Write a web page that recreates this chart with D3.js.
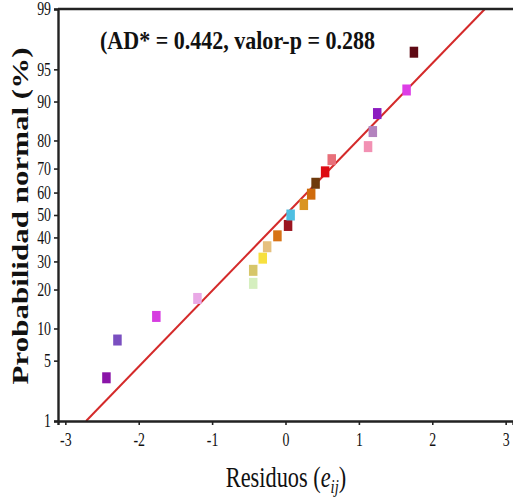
<!DOCTYPE html>
<html>
<head>
<meta charset="utf-8">
<script src="https://cdn.jsdelivr.net/npm/d3@7"></script>
<style>
  html, body { margin: 0; padding: 0; background: #fff; }
  svg { display: block; }
  text { font-family: "Liberation Serif", "Times New Roman", serif; fill: #111; }
</style>
</head>
<body>
<svg id="chart" width="513" height="498"></svg>
<script>
// ---- data ----
const residuals = [-2.44, -2.29, -1.76, -1.20, -0.44, -0.44, -0.31, -0.25, -0.11, 0.035, 0.07,
                   0.25, 0.35, 0.41, 0.54, 0.63, 1.125, 1.19, 1.25, 1.65, 1.75];
const probabilities = [3.3, 7.9, 12.6, 17.3, 22.0, 26.6, 31.3, 36.0, 40.7, 45.3, 50.0,
                       54.7, 59.3, 64.0, 68.7, 73.4, 78.0, 82.7, 87.4, 92.1, 96.7];
const pointColors = ["#8a14a8", "#7a4fc0", "#d63ce0", "#e9a9e6", "#d5efbf", "#d6c66a", "#f7e03e",
                     "#e6c07e", "#d77316", "#9b1520", "#4fbfe2", "#da9420", "#cf6b0c", "#6e3a0c",
                     "#dd0a12", "#e8707a", "#f291b3", "#b383be", "#8c1cc0", "#dd3ee6", "#5f0a14"];
const xTicks = [-3, -2, -1, 0, 1, 2, 3];
const yTicks = [1, 5, 10, 20, 30, 40, 50, 60, 70, 80, 90, 95, 99];
const fitMean = 0;
const fitSD = 1.168;
const fitRange = [1, 99];
const titleText = "(AD* = 0.442, valor-p = 0.288";
const yTitle = "Probabilidad normal (%)";

// inverse normal CDF (Acklam)
function probit(p) {
  const a = [-3.969683028665376e+01, 2.209460984245205e+02, -2.759285104469687e+02, 1.383577518672690e+02, -3.066479806614716e+01, 2.506628277459239e+00];
  const b = [-5.447609879822406e+01, 1.615858368580409e+02, -1.556989798598866e+02, 6.680131188771972e+01, -1.328068155288572e+01];
  const c = [-7.784894002430293e-03, -3.223964580411365e-01, -2.400758277161838e+00, -2.549732539343734e+00, 4.374664141464968e+00, 2.938163982698783e+00];
  const d = [7.784695709041462e-03, 3.224671290700398e-01, 2.445134137142996e+00, 3.754408661907416e+00];
  const plow = 0.02425, phigh = 1 - plow;
  let q, r;
  if (p < plow) {
    q = Math.sqrt(-2 * Math.log(p));
    return (((((c[0]*q+c[1])*q+c[2])*q+c[3])*q+c[4])*q+c[5]) / ((((d[0]*q+d[1])*q+d[2])*q+d[3])*q+1);
  } else if (p <= phigh) {
    q = p - 0.5; r = q*q;
    return (((((a[0]*r+a[1])*r+a[2])*r+a[3])*r+a[4])*r+a[5])*q / (((((b[0]*r+b[1])*r+b[2])*r+b[3])*r+b[4])*r+1);
  } else {
    q = Math.sqrt(-2 * Math.log(1 - p));
    return -(((((c[0]*q+c[1])*q+c[2])*q+c[3])*q+c[4])*q+c[5]) / ((((d[0]*q+d[1])*q+d[2])*q+d[3])*q+1);
  }
}

const svg = d3.select("#chart");
const mLeft = 58, mRight = 513, mTop = 9, mBottom = 421;
const SX = 0.77; // horizontal text compression seen in the reference

const x = d3.scaleLinear().domain([-3.1, 3.1]).range([mLeft, mRight]);
const yZ = d3.scaleLinear().domain([probit(0.01), probit(0.99)]).range([mBottom, mTop]);
const y = pct => yZ(probit(pct / 100));

// fitted line
const lineGen = d3.line().x(d => x(d[0])).y(d => y(d[1]));
const linePts = fitRange.map(p => [fitMean + fitSD * probit(p / 100), p]);
svg.append("path")
  .attr("d", lineGen(linePts))
  .attr("fill", "none")
  .attr("stroke", "#d42a2a")
  .attr("stroke-width", 2);

// points
const W = 8.5, H = 11;
svg.append("g").selectAll("rect")
  .data(residuals.map((r, i) => ({ r, p: probabilities[i], c: pointColors[i] })))
  .join("rect")
  .attr("x", d => x(d.r) - W / 2)
  .attr("y", d => y(d.p) - H / 2)
  .attr("width", W)
  .attr("height", H)
  .attr("fill", d => d.c);

// x axis
const xAxis = d3.axisBottom(x).tickValues(xTicks).tickSizeOuter(0).tickSize(4).tickPadding(6)
  .tickFormat(d => String(d));
const gx = svg.append("g").attr("transform", `translate(0,${mBottom})`).call(xAxis);
gx.select(".domain").attr("stroke", "#222").attr("stroke-width", 2.4);
gx.selectAll(".tick line").attr("stroke", "#222").attr("stroke-width", 1.6);
gx.selectAll(".tick text").attr("font-size", 18).attr("font-family", "Liberation Serif")
  .attr("fill", "#000").attr("transform", `scale(${SX},1)`).attr("dy", "0.85em").attr("x", 0);

// y axis
const yAxis = d3.axisLeft(yZ).tickValues(yTicks.map(p => probit(p / 100)))
  .tickFormat((d, i) => yTicks[i]).tickSizeOuter(0).tickSize(4).tickPadding(4);
const gy = svg.append("g").attr("transform", `translate(${mLeft},0)`).call(yAxis);
gy.select(".domain").attr("stroke", "#222").attr("stroke-width", 2.4);
gy.selectAll(".tick line").attr("stroke", "#222").attr("stroke-width", 1.6);
gy.selectAll(".tick text").attr("font-size", 18).attr("font-family", "Liberation Serif")
  .attr("fill", "#000").attr("transform", `scale(${SX},1)`).attr("x", -7 / SX);

// top frame line
svg.append("line").attr("x1", mLeft).attr("x2", mRight).attr("y1", mTop).attr("y2", mTop)
  .attr("stroke", "#222").attr("stroke-width", 2.4);

// title
svg.append("text")
  .attr("x", 100).attr("y", 49)
  .attr("font-family", "Liberation Serif")
  .attr("font-size", 26).attr("font-weight", "bold")
  .attr("fill", "#111")
  .attr("textLength", 275).attr("lengthAdjust", "spacingAndGlyphs")
  .text(titleText);

// y axis title
svg.append("g").attr("transform", `translate(28,216) scale(${SX},1) rotate(-90)`)
  .append("text")
  .attr("text-anchor", "middle")
  .attr("font-family", "Liberation Serif")
  .attr("font-size", 31).attr("font-weight", "bold")
  .attr("fill", "#222")
  .text(yTitle);

// x axis title
const xt = svg.append("g").attr("transform", `translate(286,487) scale(${SX},1)`)
  .append("text").attr("text-anchor", "middle").attr("font-size", 29).attr("fill", "#222")
  .attr("font-family", "Liberation Serif");
xt.append("tspan").text("Residuos (");
xt.append("tspan").attr("font-style", "italic").text("e");
xt.append("tspan").attr("font-style", "italic").attr("font-size", 19).attr("dy", 6).text("ij");
xt.append("tspan").attr("dy", -6).text(")");
</script>
</body>
</html>
